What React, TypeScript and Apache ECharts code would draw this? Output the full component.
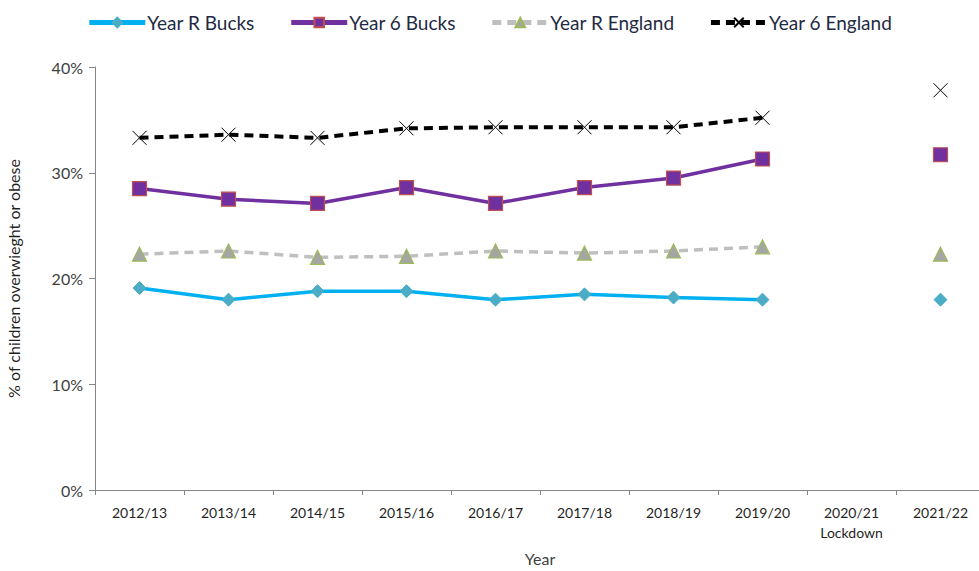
import React, { useEffect, useRef } from "react";
import * as echarts from "echarts";

const categories = ["2012/13", "2013/14", "2014/15", "2015/16", "2016/17", "2017/18", "2018/19", "2019/20", "2020/21\nLockdown", "2021/22"];
const yearRBucks = [19.1, 18.0, 18.8, 18.8, 18.0, 18.5, 18.2, 18.0, null, 18.0];
const year6Bucks = [28.5, 27.5, 27.1, 28.6, 27.1, 28.6, 29.5, 31.3, null, 31.7];
const yearREngland = [22.3, 22.6, 22.0, 22.1, 22.6, 22.4, 22.6, 23.0, null, 22.3];
const year6England = [33.3, 33.6, 33.3, 34.2, 34.3, 34.3, 34.3, 35.2, null, 37.8];
const yTicks = [0, 10, 20, 30, 40];

const FONT = "Lato";

export default function App() {
  const ref = useRef<HTMLDivElement>(null);
  useEffect(() => {
    document.body.style.margin = "0";
    const chart = echarts.init(ref.current!, null, { renderer: "svg" });
    chart.setOption({
      animation: false,
      textStyle: { fontFamily: FONT },
      legend: {
        top: 8,
        left: "center",
        itemWidth: 56,
        itemHeight: 12,
        itemGap: 34,
        lineStyle: { width: 5 },
        textStyle: { fontFamily: FONT, fontSize: 19, color: "#1f2a44", padding: [0, 0, 0, -3] },
        data: ["Year R Bucks", "Year 6 Bucks", "Year R England", "Year 6 England"],
      },
      grid: { left: 95, top: 67, width: 890, height: 423, containLabel: false, outerBoundsMode: "none" },
      xAxis: {
        type: "category",
        data: categories,
        name: "Year",
        nameLocation: "middle",
        nameGap: 60,
        nameTextStyle: { fontFamily: FONT, fontSize: 16, color: "#404040" },
        axisLine: { lineStyle: { color: "#868686", width: 1 } },
        axisTick: { show: true, alignWithLabel: false, length: 5, lineStyle: { color: "#868686" } },
        axisLabel: { fontFamily: FONT, fontSize: 14, color: "#1f1f1f", margin: 12, lineHeight: 20 },
        splitLine: { show: false },
      },
      yAxis: {
        type: "value",
        min: yTicks[0],
        max: yTicks[yTicks.length - 1],
        interval: 10,
        name: "% of children overwieght or obese",
        nameLocation: "middle",
        nameGap: 74,
        nameRotate: 90,
        nameTextStyle: { fontFamily: FONT, fontSize: 16, color: "#1f1f1f" },
        axisLine: { show: true, lineStyle: { color: "#868686", width: 1 } },
        axisTick: { show: true, length: 6, lineStyle: { color: "#868686" } },
        axisLabel: { fontFamily: FONT, fontSize: 16, color: "#404040", margin: 12, formatter: (v: number) => v + "%" },
        splitLine: { show: false },
      },
      series: [
        {
          name: "Year R Bucks",
          type: "line",
          data: yearRBucks,
          connectNulls: false,
          symbol: "diamond",
          symbolSize: 13,
          lineStyle: { color: "#00B0F0", width: 3.5 },
          itemStyle: { color: "#4BACC6", borderColor: "#4BACC6", borderWidth: 1 },
          z: 2,
        },
        {
          name: "Year 6 Bucks",
          type: "line",
          data: year6Bucks,
          connectNulls: false,
          symbol: "rect",
          symbolSize: 14,
          lineStyle: { color: "#7030A0", width: 3.5 },
          itemStyle: { color: "#7030A0", borderColor: "#C0504D", borderWidth: 1.2 },
          z: 3,
        },
        {
          name: "Year R England",
          type: "line",
          data: yearREngland,
          connectNulls: false,
          symbol: "triangle",
          symbolSize: 14,
          lineStyle: { color: "#BFBFBF", width: 3.5, type: [9, 6] },
          itemStyle: { color: "#A5A5A5", borderColor: "#9BBB59", borderWidth: 1.2 },
          z: 2,
        },
        {
          name: "Year 6 England",
          type: "line",
          data: year6England,
          connectNulls: false,
          symbol: "path://M0 0L10 10M10 0L0 10",
          symbolSize: 14,
          lineStyle: { color: "#000000", width: 4, type: [9, 6] },
          itemStyle: { color: "rgba(0,0,0,0)", borderColor: "#000000", borderWidth: 1 },
          z: 4,
        },
      ],
    });
    return () => chart.dispose();
  }, []);
  return <div ref={ref} style={{ width: 979, height: 571 }} />;
}
